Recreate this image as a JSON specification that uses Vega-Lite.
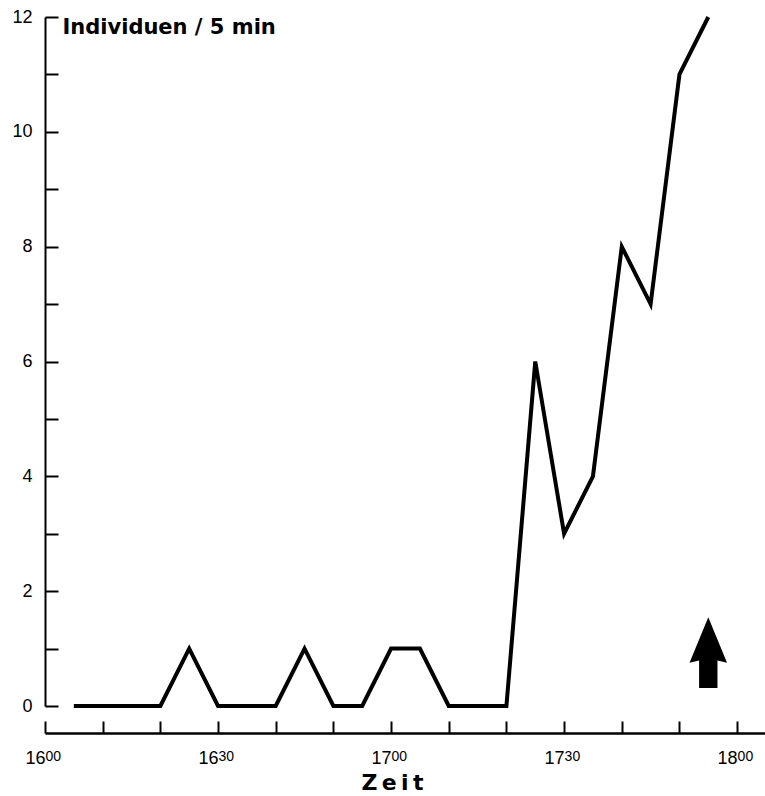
{
  "$schema": "https://vega.github.io/schema/vega-lite/v6.json",
  "width": 720,
  "height": 689,
  "autosize": {"type": "none"},
  "padding": {"left": 45, "top": 17, "right": 0, "bottom": 90},
  "background": "white",
  "config": {
    "view": {"stroke": null},
    "font": "Liberation Sans",
    "axis": {"grid": false, "domainColor": "black", "tickColor": "black", "labelColor": "black", "titleColor": "black"}
  },
  "resolve": {"axis": {"x": "independent"}},
  "datasets": {
    "counts": [
      {"Zeit": "2000-01-01T16:05", "Individuen": 0},
      {"Zeit": "2000-01-01T16:10", "Individuen": 0},
      {"Zeit": "2000-01-01T16:15", "Individuen": 0},
      {"Zeit": "2000-01-01T16:20", "Individuen": 0},
      {"Zeit": "2000-01-01T16:25", "Individuen": 1},
      {"Zeit": "2000-01-01T16:30", "Individuen": 0},
      {"Zeit": "2000-01-01T16:35", "Individuen": 0},
      {"Zeit": "2000-01-01T16:40", "Individuen": 0},
      {"Zeit": "2000-01-01T16:45", "Individuen": 1},
      {"Zeit": "2000-01-01T16:50", "Individuen": 0},
      {"Zeit": "2000-01-01T16:55", "Individuen": 0},
      {"Zeit": "2000-01-01T17:00", "Individuen": 1},
      {"Zeit": "2000-01-01T17:05", "Individuen": 1},
      {"Zeit": "2000-01-01T17:10", "Individuen": 0},
      {"Zeit": "2000-01-01T17:15", "Individuen": 0},
      {"Zeit": "2000-01-01T17:20", "Individuen": 0},
      {"Zeit": "2000-01-01T17:25", "Individuen": 6},
      {"Zeit": "2000-01-01T17:30", "Individuen": 3},
      {"Zeit": "2000-01-01T17:35", "Individuen": 4},
      {"Zeit": "2000-01-01T17:40", "Individuen": 8},
      {"Zeit": "2000-01-01T17:45", "Individuen": 7},
      {"Zeit": "2000-01-01T17:50", "Individuen": 11},
      {"Zeit": "2000-01-01T17:55", "Individuen": 12}
    ],
    "arrow": [
      {"Zeit": "2000-01-01T17:55", "Individuen": 0.93}
    ]
  },
  "layer": [
    {
      "data": {"name": "counts"},
      "mark": {"type": "line", "color": "black", "strokeWidth": 4, "strokeJoin": "miter"},
      "encoding": {
        "x": {
          "field": "Zeit",
          "type": "temporal",
          "scale": {"domain": [
            {"year": 2000, "month": 1, "date": 1, "hours": 16, "minutes": 0},
            {"year": 2000, "month": 1, "date": 1, "hours": 18, "minutes": 4, "seconds": 50}
          ]},
          "axis": {
            "orient": "bottom",
            "title": "Z\u2009e\u2009i\u2009t",
            "titleFont": "DejaVu Sans",
            "titleFontSize": 22,
            "titleFontWeight": "bold",
            "titleAlign": "center",
            "titleBaseline": "alphabetic",
            "titleX": 347,
            "titleY": 56,
            "offset": 27,
            "values": [
              {"year": 2000, "month": 1, "date": 1, "hours": 16, "minutes": 0},
              {"year": 2000, "month": 1, "date": 1, "hours": 16, "minutes": 10},
              {"year": 2000, "month": 1, "date": 1, "hours": 16, "minutes": 20},
              {"year": 2000, "month": 1, "date": 1, "hours": 16, "minutes": 30},
              {"year": 2000, "month": 1, "date": 1, "hours": 16, "minutes": 40},
              {"year": 2000, "month": 1, "date": 1, "hours": 16, "minutes": 50},
              {"year": 2000, "month": 1, "date": 1, "hours": 17, "minutes": 0},
              {"year": 2000, "month": 1, "date": 1, "hours": 17, "minutes": 10},
              {"year": 2000, "month": 1, "date": 1, "hours": 17, "minutes": 20},
              {"year": 2000, "month": 1, "date": 1, "hours": 17, "minutes": 30},
              {"year": 2000, "month": 1, "date": 1, "hours": 17, "minutes": 40},
              {"year": 2000, "month": 1, "date": 1, "hours": 17, "minutes": 50},
              {"year": 2000, "month": 1, "date": 1, "hours": 18, "minutes": 0}
            ],
            "labelExpr": "minutes(datum.value) % 30 == 0 ? timeFormat(datum.value, '%H') : ''",
            "labelFontSize": 18,
            "labelAlign": "right",
            "labelBaseline": "top",
            "labelDx": 4,
            "labelPadding": 28,
            "labelFlush": false,
            "labelOverlap": false,
            "tickSize": -12,
            "tickWidth": 2,
            "domainWidth": 2.5
          }
        },
        "y": {
          "field": "Individuen",
          "type": "quantitative",
          "scale": {"domain": [0, 12], "nice": false},
          "axis": {
            "title": "Individuen / 5 min",
            "titleFont": "DejaVu Sans",
            "titleAngle": 0,
            "titleAlign": "left",
            "titleBaseline": "alphabetic",
            "titleX": 17,
            "titleY": 16,
            "titleFontSize": 21,
            "titleFontWeight": "bold",
            "values": [0, 1, 2, 3, 4, 5, 6, 7, 8, 9, 10, 11, 12],
            "labelExpr": "datum.value % 2 == 0 ? format(datum.value, 'd') : ''",
            "labelFontSize": 18,
            "labelPadding": 26,
            "labelOverlap": false,
            "tickSize": -13,
            "tickWidth": 2,
            "domainWidth": 2
          }
        }
      }
    },
    {
      "data": {"name": "arrow"},
      "mark": {
        "type": "point",
        "shape": "M0,-1 L0.53,0.29 L0.26,0.22 L0.26,1 L-0.26,1 L-0.26,0.22 L-0.53,0.29 Z",
        "filled": true,
        "color": "black",
        "opacity": 1,
        "size": 5000
      },
      "encoding": {
        "x": {
          "field": "Zeit",
          "type": "temporal",
          "axis": {
            "orient": "bottom",
            "title": null,
            "offset": 27,
            "domain": false,
            "ticks": false,
            "tickSize": 0,
            "values": [
              {"year": 2000, "month": 1, "date": 1, "hours": 16, "minutes": 0},
              {"year": 2000, "month": 1, "date": 1, "hours": 16, "minutes": 30},
              {"year": 2000, "month": 1, "date": 1, "hours": 17, "minutes": 0},
              {"year": 2000, "month": 1, "date": 1, "hours": 17, "minutes": 30},
              {"year": 2000, "month": 1, "date": 1, "hours": 18, "minutes": 0}
            ],
            "labelExpr": "timeFormat(datum.value, '%M')",
            "labelFontSize": 14,
            "labelAlign": "left",
            "labelBaseline": "top",
            "labelDx": 5,
            "labelPadding": 16,
            "labelFlush": false,
            "labelOverlap": false
          }
        },
        "y": {"field": "Individuen", "type": "quantitative"}
      }
    }
  ]
}
